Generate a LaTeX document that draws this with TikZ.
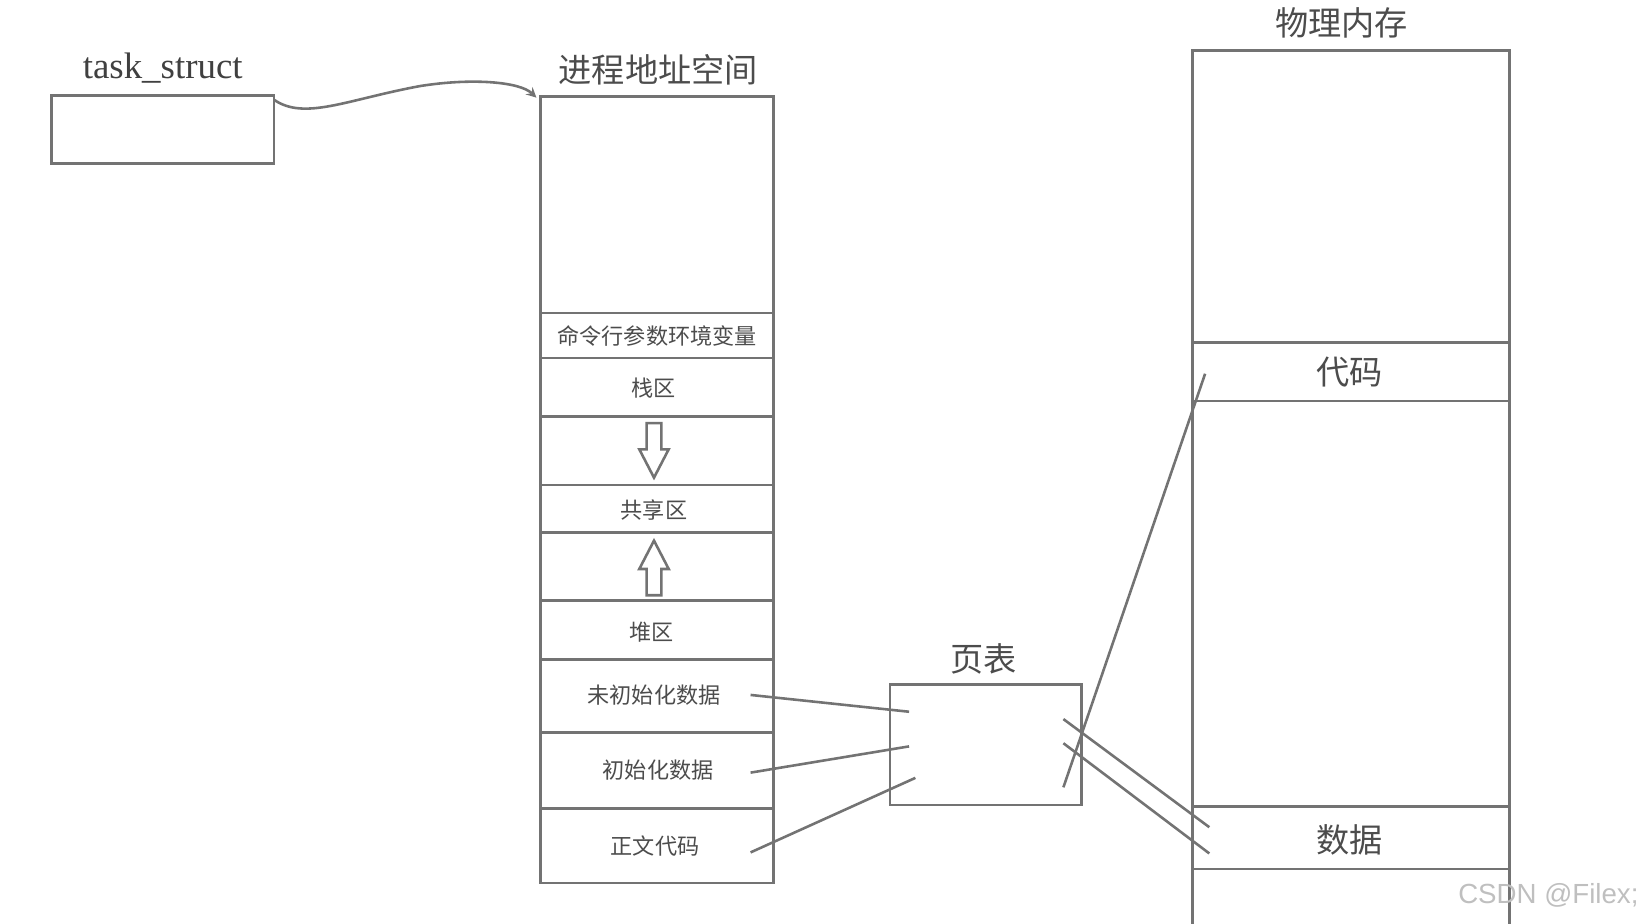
\documentclass[tikz,border=0pt]{standalone}
\usepackage{fontspec}
\setmainfont{Liberation Serif}
\newfontfamily\cjk{Noto Sans CJK SC}
\newfontfamily\wm{Liberation Sans}
\begin{document}
\begin{tikzpicture}[x=0.02cm,y=-0.02cm,
  ln/.style={draw=black!55,line width=1.4pt},
  lbl/.style={text=black!70,font=\cjk\fontsize{12}{12}\selectfont},
  big/.style={text=black!70,font=\cjk\fontsize{18}{18}\selectfont}]
\useasboundingbox (0,0) rectangle (1568,880);
% task_struct
\node[text=black!75,font=\fontsize{20}{20}\selectfont] (ts) at (155,65) {task\_struct};
\draw[ln] (49,91) rectangle (261,156);
\coordinate (tsr) at (261,95);
\coordinate (asp) at (511,93);
\draw[ln,->,>=stealth] (tsr) .. controls (290,115) and (330,95) .. (400,82) .. controls (450,74) and (495,78) .. (asp);
% address space
\node[big] (ast) at (627,66) {进程地址空间};
\draw[ln] (515,92) rectangle (737,841);
\foreach \y in {298,341,397,462,507,572,628,698,770} \draw[ln] (515,\y) -- (737,\y);
\node[lbl] (a1) at (626,320) {命令行参数环境变量};
\node[lbl] (a2) at (623,370) {栈区};
\node[lbl] (a3) at (623,486) {共享区};
\node[lbl] (a4) at (621,602) {堆区};
\node[lbl] (a5) at (623,662) {未初始化数据};
\node[lbl] (a6) at (627,734) {初始化数据};
\node[lbl] (a7) at (624,806) {正文代码};
\draw[ln] (616,403) -- (630,403) -- (630,428) -- (637,428) -- (623,455) -- (609,428) -- (616,428) -- cycle;
\draw[ln] (616,567) -- (630,567) -- (630,542) -- (637,542) -- (623,515) -- (609,542) -- (616,542) -- cycle;
% page table
\node[big] (ptt) at (937,628) {页表};
\draw[ln] (848,652) rectangle (1030,767);
% physical memory
\node[big] (pmt) at (1278,22) {物理内存};
\draw[ln] (1136,880) -- (1136,48) -- (1438,48) -- (1438,880);
\foreach \y in {326,382,768,828} \draw[ln] (1136,\y) -- (1438,\y);
\node[big] (code) at (1286,354) {代码};
\node[big] (data) at (1286,800) {数据};
% mappings
\coordinate (p1) at (715,662); \coordinate (q1) at (866,678);
\coordinate (p2) at (715,736); \coordinate (q2) at (866,711);
\coordinate (p3) at (715,812); \coordinate (q3) at (872,741);
\draw[ln] (p1) -- (q1); \draw[ln] (p2) -- (q2); \draw[ln] (p3) -- (q3);
\coordinate (r1) at (1013,750); \coordinate (s1) at (1148,356);
\coordinate (r2) at (1013,685); \coordinate (s2) at (1152,788);
\coordinate (r3) at (1013,708); \coordinate (s3) at (1152,813);
\draw[ln] (r1) -- (s1); \draw[ln] (r2) -- (s2); \draw[ln] (r3) -- (s3);
\node[text=black!25,font=\wm\fontsize{15}{15}\selectfont] (wmk) at (1475,853) {CSDN @Filex;};
\end{tikzpicture}
\end{document}
